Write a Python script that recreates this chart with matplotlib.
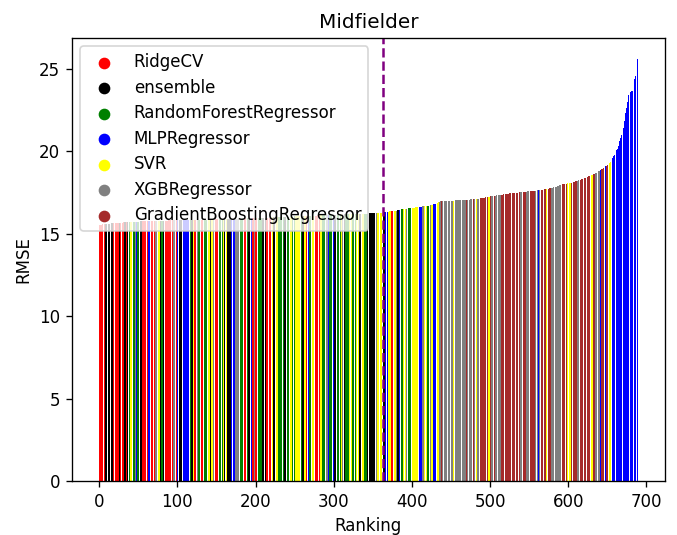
import matplotlib
matplotlib.use("Agg")
import matplotlib.pyplot as plt

# model names and their colours
models = ["RidgeCV", "ensemble", "RandomForestRegressor", "MLPRegressor",
          "SVR", "XGBRegressor", "GradientBoostingRegressor"]
model_colors = ["red", "black", "green", "blue", "yellow", "grey", "brown"]
model_codes = ["R", "K", "G", "B", "Y", "X", "H"]

# model of each configuration, in ranking order (one letter per bar)
ranked_models = (
    "RRRRRRRRKK KKKKGGKKRR RRRRRRKRRR RRKKKRKKGG YYGYGGXGBG "
    "GGKKKRRRRR RRRBBRRRRR RRXXGGYYKK GGKKRRRRRR RRRRRXXGGR "
    "BRBKKKKKBB BBBBBBGGKK YYRRRXXGGY YRRKKGGGGG YYKKYYXXRR "
    "RRKKGGGGGY KKYYKKKKKB BBBBXXXXXY GGGGRRRRRR GKKKBBRRXX "
    "RRYYGGGGGK KKKKRRRRRR RRYKKXXYYG GGGGKKGKKK GGGGGYYGGG "
    "GYYYYYYGGG KKKYYRRBBG GXXYYKKRRR RRRYYGGGGX XXXBBGGGGG "
    "BKKYYGGGGG YXXKKGGGGG YYYYGGGGGY YYYKKYYYYG GGGKKKKKKK "
    "KKKKXXYYYY YYXXKKBBKB YYYYRRYYYY XXKKBBGGGY YYYXXGGGGB "
    "BYYYYYYYKK BBBBXXYYYY GGXXXYYBBB BYYYYXXXHX XXXXXXXXXX "
    "XXXYXXXXXX XXXXXXXXYX HXXXXXXXXH XXHYXXHHHH HHHHHYHHYY "
    "HHXXXHHXXX XXXXHHHHHH HHHHHHHXHH HHHHHHHHHX XXHHHHXXXX "
    "HBHHHHHHXX XXBXXHHHHH HHYYHHHHHX XXHXXXXXXX XHHHHHXXHY "
    "YYYYHHHHHH HHXXHHHHHB HHHHHHHHHH YYHHHXXXXX XBHHHHHBBH "
    "HHHYYHHBBB BBBBBBBBBB BBBBBBBBBB BBBBBBBBBB"
).replace(" ", "")

# RMSE of each configuration, sorted ascending
rmse = [
    15.50, 15.52, 15.53, 15.54, 15.55, 15.56, 15.57, 15.57, 15.58, 15.58,
    15.59, 15.59, 15.60, 15.60, 15.60, 15.61, 15.61, 15.61, 15.62, 15.62,
    15.62, 15.63, 15.63, 15.64, 15.64, 15.64, 15.65, 15.65, 15.66, 15.66,
    15.66, 15.67, 15.67, 15.67, 15.68, 15.68, 15.68, 15.69, 15.69, 15.70,
    15.70, 15.70, 15.70, 15.71, 15.71, 15.71, 15.71, 15.72, 15.72, 15.72,
    15.72, 15.73, 15.73, 15.73, 15.73, 15.73, 15.74, 15.74, 15.74, 15.74,
    15.74, 15.75, 15.75, 15.75, 15.75, 15.75, 15.75, 15.76, 15.76, 15.76,
    15.76, 15.76, 15.76, 15.76, 15.77, 15.77, 15.77, 15.77, 15.77, 15.77,
    15.77, 15.78, 15.78, 15.78, 15.78, 15.78, 15.78, 15.78, 15.79, 15.79,
    15.79, 15.79, 15.79, 15.79, 15.79, 15.80, 15.80, 15.80, 15.80, 15.80,
    15.80, 15.80, 15.81, 15.81, 15.81, 15.81, 15.81, 15.81, 15.81, 15.82,
    15.82, 15.82, 15.82, 15.82, 15.82, 15.82, 15.82, 15.82, 15.83, 15.83,
    15.83, 15.83, 15.83, 15.83, 15.83, 15.83, 15.84, 15.84, 15.84, 15.84,
    15.84, 15.84, 15.84, 15.85, 15.85, 15.85, 15.85, 15.85, 15.85, 15.85,
    15.86, 15.86, 15.86, 15.86, 15.86, 15.86, 15.86, 15.86, 15.87, 15.87,
    15.87, 15.87, 15.87, 15.87, 15.87, 15.88, 15.88, 15.88, 15.88, 15.88,
    15.88, 15.88, 15.89, 15.89, 15.89, 15.89, 15.89, 15.89, 15.89, 15.90,
    15.90, 15.90, 15.90, 15.90, 15.90, 15.90, 15.91, 15.91, 15.91, 15.91,
    15.91, 15.91, 15.91, 15.92, 15.92, 15.92, 15.92, 15.92, 15.92, 15.92,
    15.93, 15.93, 15.93, 15.93, 15.93, 15.93, 15.94, 15.94, 15.94, 15.94,
    15.94, 15.94, 15.95, 15.95, 15.95, 15.95, 15.95, 15.95, 15.96, 15.96,
    15.96, 15.96, 15.96, 15.96, 15.97, 15.97, 15.97, 15.97, 15.97, 15.98,
    15.98, 15.98, 15.98, 15.98, 15.98, 15.99, 15.99, 15.99, 15.99, 15.99,
    16.00, 16.00, 16.00, 16.00, 16.00, 16.01, 16.01, 16.01, 16.01, 16.02,
    16.02, 16.02, 16.02, 16.02, 16.03, 16.03, 16.03, 16.03, 16.03, 16.04,
    16.04, 16.04, 16.04, 16.04, 16.05, 16.05, 16.05, 16.05, 16.05, 16.06,
    16.06, 16.06, 16.06, 16.06, 16.07, 16.07, 16.07, 16.07, 16.07, 16.08,
    16.08, 16.08, 16.08, 16.08, 16.09, 16.09, 16.09, 16.09, 16.09, 16.10,
    16.10, 16.10, 16.10, 16.10, 16.11, 16.11, 16.11, 16.11, 16.11, 16.12,
    16.12, 16.12, 16.12, 16.12, 16.13, 16.13, 16.13, 16.13, 16.13, 16.14,
    16.14, 16.14, 16.14, 16.14, 16.15, 16.15, 16.15, 16.15, 16.15, 16.16,
    16.16, 16.16, 16.16, 16.16, 16.17, 16.17, 16.17, 16.17, 16.17, 16.17,
    16.18, 16.18, 16.18, 16.18, 16.18, 16.18, 16.19, 16.19, 16.19, 16.19,
    16.19, 16.19, 16.20, 16.20, 16.20, 16.20, 16.20, 16.20, 16.21, 16.21,
    16.21, 16.21, 16.21, 16.21, 16.22, 16.22, 16.22, 16.22, 16.22, 16.23,
    16.23, 16.23, 16.23, 16.24, 16.24, 16.24, 16.24, 16.25, 16.25, 16.25,
    16.25, 16.26, 16.27, 16.27, 16.28, 16.29, 16.30, 16.31, 16.32, 16.33,
    16.33, 16.34, 16.34, 16.35, 16.35, 16.36, 16.36, 16.37, 16.38, 16.38,
    16.39, 16.40, 16.41, 16.42, 16.43, 16.44, 16.45, 16.46, 16.47, 16.48,
    16.49, 16.50, 16.51, 16.51, 16.52, 16.52, 16.53, 16.53, 16.54, 16.54,
    16.55, 16.55, 16.56, 16.57, 16.58, 16.58, 16.59, 16.59, 16.60, 16.60,
    16.61, 16.61, 16.62, 16.63, 16.64, 16.64, 16.65, 16.66, 16.67, 16.67,
    16.68, 16.69, 16.70, 16.71, 16.72, 16.74, 16.75, 16.77, 16.78, 16.80,
    16.82, 16.84, 16.86, 16.88, 16.90, 16.92, 16.94, 16.95, 16.96, 16.96,
    16.96, 16.97, 16.97, 16.97, 16.98, 16.98, 16.98, 16.98, 16.99, 16.99,
    16.99, 16.99, 17.00, 17.00, 17.00, 17.00, 17.01, 17.01, 17.01, 17.01,
    17.02, 17.02, 17.02, 17.03, 17.03, 17.03, 17.04, 17.04, 17.04, 17.05,
    17.05, 17.05, 17.06, 17.06, 17.06, 17.07, 17.07, 17.07, 17.08, 17.08,
    17.09, 17.09, 17.10, 17.11, 17.11, 17.12, 17.13, 17.14, 17.14, 17.15,
    17.16, 17.17, 17.17, 17.18, 17.19, 17.20, 17.21, 17.22, 17.22, 17.23,
    17.24, 17.25, 17.26, 17.27, 17.28, 17.28, 17.29, 17.30, 17.31, 17.32,
    17.32, 17.33, 17.34, 17.34, 17.35, 17.36, 17.36, 17.37, 17.38, 17.39,
    17.39, 17.40, 17.41, 17.41, 17.42, 17.43, 17.43, 17.44, 17.45, 17.45,
    17.46, 17.46, 17.47, 17.47, 17.48, 17.48, 17.49, 17.49, 17.50, 17.50,
    17.51, 17.51, 17.52, 17.52, 17.53, 17.53, 17.54, 17.54, 17.55, 17.55,
    17.56, 17.56, 17.57, 17.57, 17.58, 17.58, 17.59, 17.60, 17.60, 17.61,
    17.61, 17.62, 17.62, 17.63, 17.64, 17.64, 17.65, 17.65, 17.66, 17.67,
    17.67, 17.68, 17.69, 17.70, 17.71, 17.72, 17.73, 17.74, 17.75, 17.76,
    17.77, 17.79, 17.80, 17.82, 17.83, 17.85, 17.87, 17.89, 17.91, 17.93,
    17.94, 17.95, 17.96, 17.98, 17.99, 18.00, 18.01, 18.02, 18.03, 18.04,
    18.05, 18.06, 18.07, 18.08, 18.09, 18.10, 18.12, 18.13, 18.15, 18.16,
    18.18, 18.19, 18.21, 18.22, 18.24, 18.26, 18.27, 18.29, 18.31, 18.33,
    18.35, 18.37, 18.39, 18.41, 18.43, 18.45, 18.47, 18.49, 18.51, 18.53,
    18.55, 18.57, 18.59, 18.61, 18.63, 18.66, 18.69, 18.72, 18.75, 18.78,
    18.81, 18.84, 18.87, 18.90, 18.94, 18.97, 19.00, 19.04, 19.08, 19.12,
    19.16, 19.21, 19.25, 19.29, 19.36, 19.43, 19.50, 19.58, 19.68, 19.78,
    19.86, 19.95, 20.05, 20.14, 20.28, 20.43, 20.62, 20.81, 21.00, 21.15,
    21.30, 21.40, 21.85, 22.30, 22.45, 22.60, 23.00, 23.40, 23.50, 23.55,
    23.60, 23.62, 23.65, 23.90, 24.15, 24.35, 24.55, 24.70, 24.90, 25.57,
]

cutoff_rank = 363

code_to_color = dict(zip(model_codes, model_colors))
bar_colors = [code_to_color[c] for c in ranked_models]
ranks = list(range(len(rmse)))

fig = plt.figure(figsize=(677 / 120, 535 / 120), dpi=120)
ax = fig.add_axes([0.1063, 0.1009, 0.876, 0.828])

ax.bar(ranks, rmse, color=bar_colors)
ax.axvline(cutoff_rank, color="purple", linestyle="--")

# empty scatters just to get round legend markers
for name, col in zip(models, model_colors):
    ax.scatter([], [], color=col, label=name)
ax.legend(loc="upper left", labelspacing=0.45)

ax.set_title("Midfielder")
ax.set_xlabel("Ranking")
ax.set_ylabel("RMSE")

fig.savefig("out.png", dpi=120)
